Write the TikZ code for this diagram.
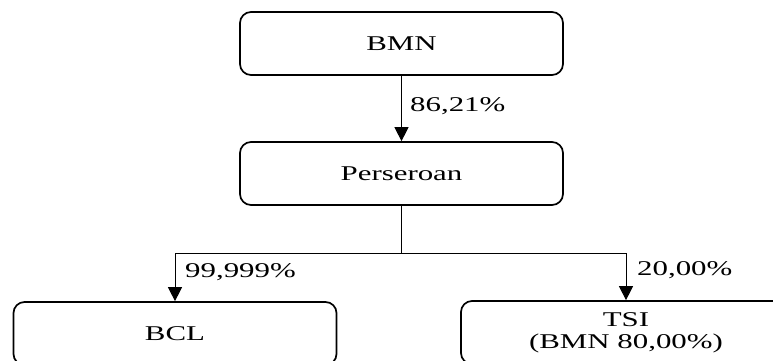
\documentclass[tikz,border=0pt]{standalone}
\usepackage{fontspec}
\setmainfont{Liberation Serif}[FakeStretch=1.47]
\usetikzlibrary{arrows.meta}
\begin{document}
\begin{tikzpicture}[x=1pt,y=-1pt,
  txt/.style={font=\fontsize{21}{22}\selectfont},
  box/.style={draw, line width=1.7pt, rounded corners=11pt, minimum width=323pt,
    minimum height=63pt, inner sep=0pt, align=center, txt},
  lbl/.style={txt, inner sep=0pt, anchor=base west},
  conn/.style={line width=1pt},
  arr/.style={conn, -{Triangle[width=14pt,length=14pt]}}]
\useasboundingbox (0,0) rectangle (773,360);
\clip (0,0) rectangle (773,360);
\node[box] (bmn) at (401.5,43.5) {BMN};
\node[box] (pers) at (401.5,173.5) {Perseroan};
\node[box] (bcl) at (175,333.5) {BCL};
\node[box, minimum width=330pt] (tsi) at (626,332.5) {TSI\\(BMN 80,00\%)};
\coordinate (j) at (401.5,253);
\draw[arr] (bmn) -- (pers);
\draw[conn] (pers.south) -- (j);
\draw[arr] (j) -| (bcl.north);
\draw[arr] (j) -| (tsi.north);
\node[lbl] (l1) at (410,111) {86,21\%};
\node[lbl] (l2) at (185,277) {99,999\%};
\node[lbl] (l3) at (637,275) {20,00\%};
\end{tikzpicture}
\end{document}
